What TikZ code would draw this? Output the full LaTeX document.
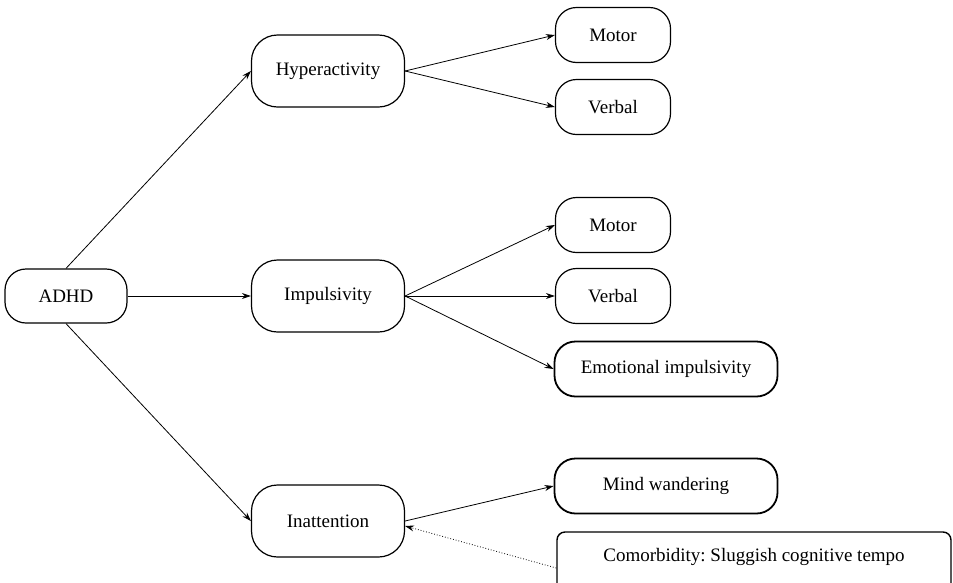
\documentclass[tikz,border=0pt]{standalone}
\usepackage{fontspec}
\setmainfont{Liberation Serif}
\usetikzlibrary{arrows.meta}
\frenchspacing
\begin{document}
\begin{tikzpicture}[x=1pt,y=-1pt,font=\fontsize{19}{23}\selectfont,
 box/.style={draw,line width=1.2pt,rounded corners=21pt,inner sep=0pt,
  minimum width=115pt,minimum height=55pt},
 mainbox/.style={box,rounded corners=26pt,minimum width=153pt,minimum height=72pt},
 boldbox/.style={box,line width=1.8pt,minimum width=223pt},
 arr/.style={-{Stealth[length=9pt,width=6pt]},line width=0.8pt}]
\useasboundingbox (0,0) rectangle (953,582);

\node[box,minimum width=122pt,minimum height=54pt] (adhd) at (66,296) {ADHD};
%
\node[mainbox] (hyper) at (328,71) {Hyperactivity};
\node[mainbox] (impuls) at (328,296) {Impulsivity};
\node[mainbox] (inatt) at (328,521) {Inattention};
%
\node[box] (motorA) at (613,35) {Motor};
\node[box] (verbalA) at (613,107) {Verbal};
\node[box] (motorB) at (613,225) {Motor};
\node[box] (verbalB) at (613,296) {Verbal};
\node[boldbox] (emo) at (666,369) {Emotional impulsivity};
\node[boldbox] (mind) at (666,486) {Mind wandering};
\node[box,line width=1.4pt,rounded corners=8pt,minimum width=394pt,minimum height=72pt,
 text depth=26pt] (como) at (754,568) {Comorbidity: Sluggish cognitive tempo};
%
\draw[arr] (adhd.north) -- (hyper.west);
\draw[arr] (adhd.east) -- (impuls.west);
\draw[arr] (adhd.south) -- (inatt.west);
\foreach \T in {motorA,verbalA}
 \draw[arr] (hyper.east) -- (\T.west);
\foreach \T in {motorB,verbalB,emo}
 \draw[arr] (impuls.east) -- (\T.west);
\draw[arr] (inatt.east) -- (mind.west);
\draw[arr,dotted] (como.west) -- ([yshift=-5pt]inatt.east);
\end{tikzpicture}
\end{document}
